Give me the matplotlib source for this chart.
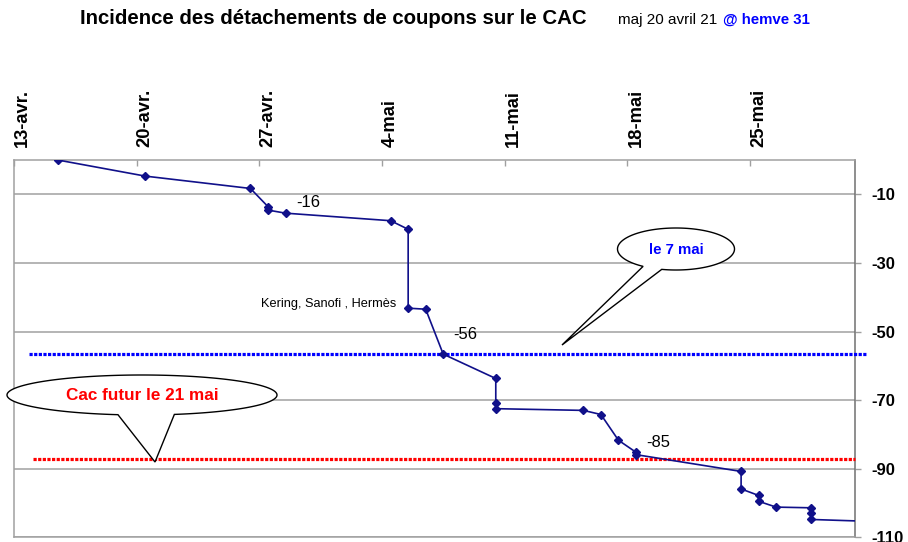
import numpy as np
import pandas as pd
import matplotlib
matplotlib.use("Agg")
import matplotlib.pyplot as plt
from matplotlib.patches import Polygon
from matplotlib.transforms import Affine2D

plt.rcParams['font.family'] = ['Liberation Sans', 'DejaVu Sans']
plt.rcParams['axes.unicode_minus'] = False

# cumulative coupon impact on the CAC (index points)
dates = ["2021-04-15", "2021-04-20", "2021-04-26", "2021-04-27", "2021-04-27",
         "2021-04-28", "2021-05-04", "2021-05-05", "2021-05-05", "2021-05-06",
         "2021-05-07", "2021-05-10", "2021-05-10", "2021-05-10", "2021-05-15",
         "2021-05-16", "2021-05-17", "2021-05-18", "2021-05-18", "2021-05-24",
         "2021-05-24", "2021-05-25", "2021-05-25", "2021-05-26", "2021-05-28",
         "2021-05-28", "2021-05-28", "2021-05-31"]
impact = [0.0, -4.7, -8.3, -13.6, -14.6,
          -15.5, -17.7, -20.2, -43.2, -43.5,
          -56.6, -63.7, -70.8, -72.5, -73.0,
          -74.2, -81.7, -85.2, -85.9, -90.8,
          -95.9, -97.8, -99.5, -101.2, -101.4,
          -103.0, -104.8, -105.3]

tick_dates = ["2021-04-13", "2021-04-20", "2021-04-27", "2021-05-04",
              "2021-05-11", "2021-05-18", "2021-05-25"]
tick_labels = ["13-avr.", "20-avr.", "27-avr.", "4-mai", "11-mai", "18-mai", "25-mai"]
y_ticks = [-110, -90, -70, -50, -30, -10]

level_7mai = -56.6     # blue dotted level
level_21mai = -87.1    # red dotted level (Cac futur)

# value labels: (date, y, text)
labels = [("2021-04-29", -12.5, "-16"), ("2021-05-08", -51.0, "-56"),
          ("2021-05-19", -82.4, "-85")]

t0 = pd.Timestamp("2021-04-13")
def day(d):
    return (pd.Timestamp(d) - t0).days

x = np.array([day(d) for d in dates]) + 0.5

W, H = 908, 542
fig = plt.figure(figsize=(W / 100, H / 100), dpi=100)
ax = fig.add_axes([13.9 / W, (H - 537.3) / H, (855 - 13.9) / W, (537.3 - 160) / H])

ax.set_xlim(0, 48)
ax.set_ylim(-110, 0)

grid_c = '#a0a0a0'
ax.set_yticks(y_ticks)
ax.yaxis.tick_right()
ax.tick_params(axis='y', direction='out', length=4.5, width=1, color=grid_c,
               pad=7.5, labelsize=12)
for lab in ax.get_yticklabels():
    lab.set_fontweight('bold')
ax.grid(axis='y', color=grid_c, lw=1.1)
ax.set_axisbelow(True)

# tick marks at day boundaries, labels centred on the day
tick_pos = [day(d) for d in tick_dates]
ax.set_xticks(tick_pos, minor=True)
ax.set_xticks([p + 0.5 for p in tick_pos])
ax.set_xticklabels(tick_labels, rotation=90, fontsize=13.2, fontweight='bold')
ax.xaxis.tick_top()
ax.tick_params(axis='x', which='major', length=0, pad=9.3)
ax.tick_params(axis='x', which='minor', direction='in', length=4, width=1, color=grid_c,
               top=True, bottom=False)

for s in ['top', 'left', 'bottom']:
    ax.spines[s].set_color(grid_c)
    ax.spines[s].set_linewidth(1.1)
ax.spines['right'].set_color('#707070')
ax.spines['right'].set_linewidth(1.1)

# dotted reference levels
ax.plot([0.86, 48.7], [level_7mai] * 2, color='#0000ff', lw=2.3,
        linestyle=(0, (1, 0.45)), clip_on=False, zorder=3)
ax.plot([1.09, 48.0], [level_21mai] * 2, color='#ff0000', lw=2.3,
        linestyle=(0, (1, 0.45)), clip_on=False, zorder=3)

ax.plot(x, impact, color='#10108a', lw=1.2, marker='D', ms=3.8, zorder=4)

for d, yv, txt in labels:
    ax.text(day(d) + 0.1, yv, txt, fontsize=12, va='center', ha='left')
ax.text(day("2021-05-04") + 0.8, -42.0, "Kering, Sanofi , Hermès", fontsize=9.2,
        va='center', ha='right')

# callouts drawn in pixel space (origin top-left)
px = Affine2D().scale(1, -1).translate(0, H)

def callout(cx, cy, w, h, b1, b2, tip, text, color, size):
    a, b = w / 2, h / 2
    ang1 = np.arctan2((b1[1] - cy) / b, (b1[0] - cx) / a)
    ang2 = np.arctan2((b2[1] - cy) / b, (b2[0] - cx) / a)
    th = np.linspace(ang2, ang1 - 2 * np.pi, 240)
    pts = np.column_stack([cx + a * np.cos(th), cy + b * np.sin(th)])
    pts = np.vstack([pts, [tip]])
    fig.patches.append(Polygon(pts, closed=True, facecolor='white', edgecolor='black',
                               lw=1.0, transform=px, figure=fig, zorder=5))
    fig.text(cx, cy + 1, text, transform=px, ha='center', va='center', color=color,
             fontsize=size, fontweight='bold', zorder=6)

callout(142, 395, 270, 40, (120, 413), (172, 413), (155, 462),
        "Cac futur le 21 mai", '#ff0000', 12.3)
callout(676, 249, 117, 42, (640, 268), (662, 269), (562, 345),
        "le 7 mai", '#0000ff', 10.8)

fig.text(80 / W, 1 - 19 / H, "Incidence des détachements de coupons sur le CAC",
         fontsize=14.7, fontweight='bold', va='center', ha='left')
fig.text(618 / W, 1 - 20 / H, "maj 20 avril 21", fontsize=11, va='center', ha='left')
fig.text(723 / W, 1 - 20 / H, "@ hemve 31", fontsize=10.8, fontweight='bold',
         color='#0000ff', va='center', ha='left')

fig.savefig("out.png", dpi=100)
